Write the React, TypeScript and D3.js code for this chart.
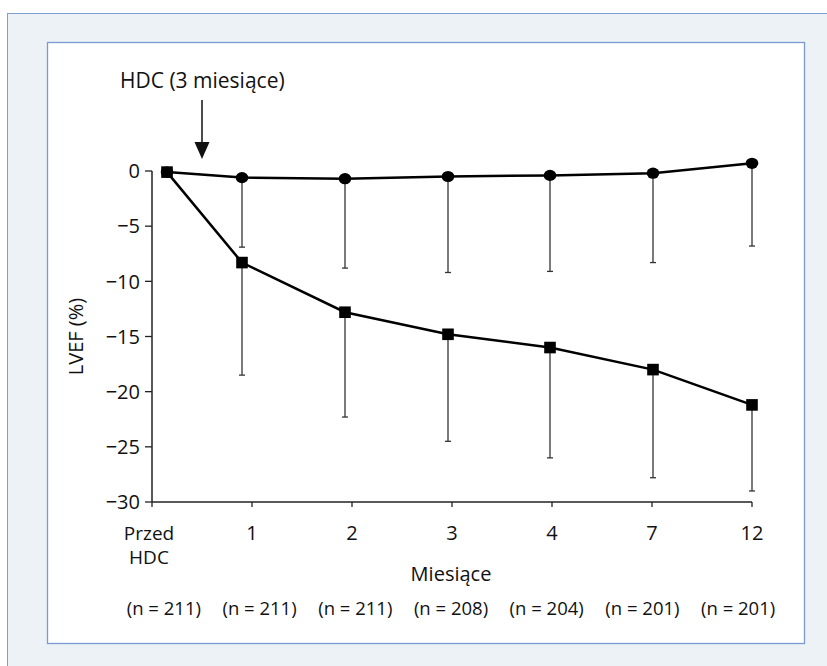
import React from 'react'
import * as d3 from 'd3'

const categories = ['Przed\nHDC', '1', '2', '3', '4', '7', '12']
// where each point sits along the category axis (index units)
const xPos = [0.15, 0.9, 1.93, 2.96, 3.98, 5.01, 6.0]
const circleMean = [-0.1, -0.6, -0.7, -0.5, -0.4, -0.2, 0.7]
const circleLow = [null, -6.9, -8.8, -9.2, -9.1, -8.3, -6.8]
const squareMean = [-0.1, -8.3, -12.8, -14.8, -16.0, -18.0, -21.2]
const squareLow = [null, -18.5, -22.3, -24.5, -26.0, -27.8, -29.0]
const yTicks = [0, -5, -10, -15, -20, -25, -30]
const nLabels = ['(n = 211)', '(n = 211)', '(n = 211)', '(n = 208)', '(n = 204)', '(n = 201)', '(n = 201)']

const W = 827
const H = 666
const font = '"Open Sans", sans-serif'

export default function App() {
  const x = d3.scaleLinear().domain([0, 6]).range([152, 752])
  const y = d3.scaleLinear().domain([-30, 0]).range([502, 171])
  const nBand = d3.scaleBand().domain(nLabels.map((_, i) => String(i))).range([116, 786])

  const line = d3
    .line<number>()
    .x((_, i) => x(xPos[i]))
    .y(d => y(d))

  const errorBars = (mean: number[], low: (number | null)[]) =>
    mean.map((m, i) => {
      const lo = low[i]
      if (lo == null) return null
      const cx = x(xPos[i])
      return (
        <g key={i} stroke="#333" strokeWidth={1.3}>
          <line x1={cx} x2={cx} y1={y(m)} y2={y(lo)} />
          <line x1={cx - 3} x2={cx + 3} y1={y(lo)} y2={y(lo)} />
        </g>
      )
    })

  const arrowX = x(0.5)

  return (
    <svg width={W} height={H} style={{ position: 'absolute', left: 0, top: 0 }} fontFamily={font}>
      {/* frames */}
      <rect x={7.5} y={13.5} width={W + 20} height={H + 20} fill="#edf2f7" stroke="#7f9fd0" strokeWidth={1} />
      <rect x={47.5} y={42.5} width={757} height={601} fill="#fff" stroke="#7a9bd2" strokeWidth={1.3} />

      {/* annotation */}
      <text x={120} y={88} fontSize={21} fill="#111">HDC (3 miesiące)</text>
      <line x1={arrowX} x2={arrowX} y1={100} y2={144} stroke="#111" strokeWidth={1.5} />
      <path d={`M${arrowX - 7.5},142 L${arrowX + 7.5},142 L${arrowX},159 Z`} fill="#111" />

      {/* y axis */}
      <line x1={x(0)} x2={x(0)} y1={y(0)} y2={y(-30)} stroke="#222" strokeWidth={1.5} />
      {yTicks.map(t => (
        <g key={t}>
          <line x1={x(0) - 7} x2={x(0)} y1={y(t)} y2={y(t)} stroke="#222" strokeWidth={1.3} />
          <text x={x(0) - 12} y={y(t)} dy="0.36em" textAnchor="end" fontSize={20} fill="#111">
            {t < 0 ? `\u2212${Math.abs(t)}` : t}
          </text>
        </g>
      ))}
      <text
        transform={`translate(83,${(y(0) + y(-30)) / 2}) rotate(-90)`}
        textAnchor="middle"
        fontSize={20}
        fill="#111"
      >
        LVEF (%)
      </text>

      {/* x axis */}
      <line x1={x(0)} x2={x(6)} y1={y(-30)} y2={y(-30)} stroke="#222" strokeWidth={1.5} />
      {categories.map((c, i) => (
        <g key={c}>
          <line x1={x(i)} x2={x(i)} y1={y(-30)} y2={y(-30) + 5} stroke="#222" strokeWidth={1.3} />
          {c.split('\n').map((part, j) => (
            <text
              key={j}
              x={x(i) - (i === 0 ? 3 : 0)}
              y={540 + j * 24}
              textAnchor="middle"
              fontSize={i === 0 ? 19 : 20}
              fill="#111"
            >
              {part}
            </text>
          ))}
        </g>
      ))}
      <text x={451} y={581} textAnchor="middle" fontSize={20} fill="#111">Miesiące</text>

      {nLabels.map((n, i) => (
        <text key={i} x={(nBand(String(i)) ?? 0) + nBand.bandwidth() / 2} y={615} textAnchor="middle" fontSize={18.5} fill="#111">
          {n}
        </text>
      ))}

      {/* error bars */}
      {errorBars(circleMean, circleLow)}
      {errorBars(squareMean, squareLow)}

      {/* lines */}
      <path d={line(circleMean) ?? ''} fill="none" stroke="#000" strokeWidth={2.5} />
      <path d={line(squareMean) ?? ''} fill="none" stroke="#000" strokeWidth={2.5} />

      {/* markers */}
      {circleMean.map((v, i) => (
        <ellipse key={i} cx={x(xPos[i])} cy={y(v)} rx={6.3} ry={5.6} fill="#000" />
      ))}
      {squareMean.map((v, i) => (
        <rect key={i} x={x(xPos[i]) - 5.8} y={y(v) - 5.8} width={11.6} height={11.6} fill="#000" />
      ))}
    </svg>
  )
}
